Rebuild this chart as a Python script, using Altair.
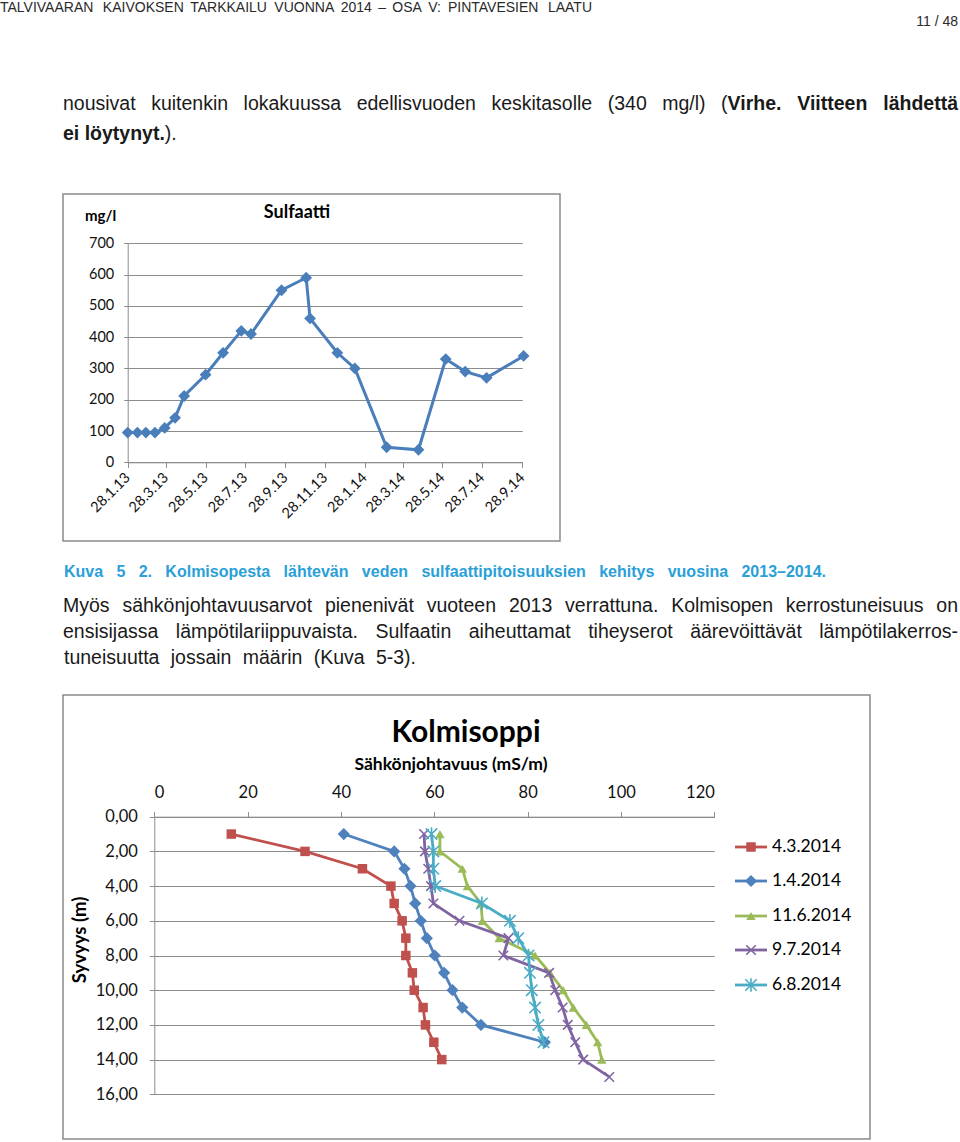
import altair as alt
import pandas as pd

# ---------------- page text (words of each printed line) ----------------
HEADER = ["TALVIVAARAN", "KAIVOKSEN", "TARKKAILU", "VUONNA", "2014", "–", "OSA", "V:",
          "PINTAVESIEN", "LAATU"]
PAGE_NO = "11 / 48"
TOP_L1 = ["nousivat", "kuitenkin", "lokakuussa", "edellisvuoden", "keskitasolle", "(340",
          "mg/l)", "("]
TOP_L1_BOLD = ["Virhe.", "Viitteen", "lähdettä"]
TOP_L2_BOLD = ["ei", "löytynyt."]
TOP_L2 = [")."]
CAPTION = ["Kuva", "5", "2.", "Kolmisopesta", "lähtevän", "veden", "sulfaattipitoisuuksien",
           "kehitys", "vuosina", "2013–2014."]
BODY_1 = ["Myös", "sähkönjohtavuusarvot", "pienenivät", "vuoteen", "2013", "verrattuna.",
          "Kolmisopen", "kerrostuneisuus", "on"]
BODY_2 = ["ensisijassa", "lämpötilariippuvaista.", "Sulfaatin", "aiheuttamat", "tiheyserot",
          "äärevöittävät", "lämpötilakerros-"]
BODY_3 = ["tuneisuutta", "jossain", "määrin", "(Kuva", "5-3)."]

# ---------------- Sulfaatti data ----------------
SULF_TITLE = "Sulfaatti"
SULF_UNIT = "mg/l"
sulf_dates = ["2013/01/28", "2013/02/12", "2013/02/25", "2013/03/11", "2013/03/26",
              "2013/04/11", "2013/04/25", "2013/05/28", "2013/06/24", "2013/07/22",
              "2013/08/06", "2013/09/22", "2013/10/30", "2013/11/05", "2013/12/17",
              "2014/01/13", "2014/03/03", "2014/04/21", "2014/06/02", "2014/07/02",
              "2014/08/04", "2014/09/30"]
sulf_values = [95, 95, 95, 95, 110, 142, 212, 280, 350, 420, 410, 550, 590, 460,
               350, 300, 48, 40, 330, 290, 270, 340]
sulf_ticks = ["2013/01/28", "2013/03/28", "2013/05/28", "2013/07/28", "2013/09/28",
              "2013/11/28", "2014/01/28", "2014/03/28", "2014/05/28", "2014/07/28",
              "2014/09/28"]
sulf_yticks = [0, 100, 200, 300, 400, 500, 600, 700]

# ---------------- Kolmisoppi data ----------------
K_TITLE = "Kolmisoppi"
K_SUB = "Sähkönjohtavuus (mS/m)"
K_YTITLE = "Syvyys (m)"
series_names = ["4.3.2014", "1.4.2014", "11.6.2014", "9.7.2014", "6.8.2014"]
depth_43 = [1, 2, 3, 4, 5, 6, 7, 8, 9, 10, 11, 12, 13, 14]
cond_43 = [16.5, 32.3, 44.6, 50.7, 51.4, 53.1, 53.9, 53.9, 55.3, 55.7, 57.6, 58.1, 59.9, 61.6]
depth_14 = [1, 2, 3, 4, 5, 6, 7, 8, 9, 10, 11, 12, 13]
cond_14 = [40.6, 51.4, 53.6, 54.9, 55.9, 57.1, 58.4, 60.1, 62.1, 63.9, 66.0, 70.0, 83.7]
depth_116 = [1, 2, 3, 4, 5, 6, 7, 8, 9, 10, 11, 12, 13, 14]
cond_116 = [61.2, 61.2, 66.0, 67.1, 70.0, 70.3, 73.9, 81.6, 84.8, 87.6, 89.8, 92.6, 95.0, 95.9]
depth_97 = [1, 2, 3, 4, 5, 6, 7, 8, 9, 10, 11, 12, 13, 14, 15]
cond_97 = [57.8, 58.0, 58.7, 59.3, 59.8, 65.4, 75.9, 74.8, 84.6, 85.9, 87.5, 88.6, 90.2, 91.9, 97.5]
depth_68 = [1, 2, 3, 4, 5, 6, 7, 8, 9, 10, 11, 12, 13]
cond_68 = [59.4, 59.8, 59.8, 60.2, 70.2, 76.2, 78.0, 80.2, 80.5, 80.9, 81.6, 82.3, 83.4]
k_xticks = [0, 20, 40, 60, 80, 100, 120]
k_yticks = [0, 2, 4, 6, 8, 10, 12, 14, 16]

# ---------------- styles ----------------
TXT_FONT = "Liberation Sans"
CH_FONT = "Lato"
GRID = "#8c8c8c"
BOX = "#8a8a8a"
colors = ["#C0504D", "#4F81BD", "#9BBB59", "#8064A2", "#4BACC6"]
X_PATH = "M-1,-1L1,1M-1,1L1,-1"
AST_PATH = "M-1,-1L1,1M-1,1L1,-1M0,-1.2L0,1.2"
markers = [dict(shape="square", filled=True, size=90),
           dict(shape="diamond", filled=True, size=150),
           dict(shape="triangle-up", filled=True, size=90),
           dict(shape=X_PATH, filled=False, size=90, strokeWidth=1.6),
           dict(shape=AST_PATH, filled=False, size=130, strokeWidth=1.6)]


# --- approximate advance widths (1/1000 em) of Liberation Sans, used only for line layout ---
def _tbl(pairs):
    d = {}
    for chars, w in pairs:
        for c in chars:
            d[c] = w
    return d


W_REG = _tbl([(" ,./:", 278), ("()-", 333), ("0123456789–", 556), ("ABEKPSVXY", 667),
              ("CDHNRUw", 722), ("GOQ", 778), ("FTZ", 611), ("I", 278), ("J", 500), ("L", 556),
              ("M", 833), ("W", 944), ("abdeghnopquäöå", 556), ("ckstvxyz", 500),
              ("fijlt", 222), ("t", 278), ("f", 278), ("m", 833), ("r", 333)])
W_BOLD = _tbl([(" ,./:", 278), ("()-", 333), ("0123456789–", 556), ("ABCDHKNRUX", 722),
               ("EPSVY", 667), ("GOQ", 778), ("FTZL", 611), ("I", 278), ("J", 556), ("M", 833),
               ("W", 944), ("aceksvxyä", 556), ("bdghnopquö", 611), ("fijlt", 278),
               ("ft", 333), ("m", 889), ("r", 389), ("w", 778), ("z", 500)])


def tw(s, bold, size):
    t = W_BOLD if bold else W_REG
    return sum(t.get(c, 556) for c in s) * size / 1000.0


def layout(tokens, x0, x1, size, justified):
    """tokens: (text, bold, space_before). Justified lines spread equal gaps to reach x1."""
    sp = 278 * size / 1000.0
    nat = sum(tw(t, b, size) for t, b, _ in tokens)
    nsp = sum(1 for i, (_, _, s) in enumerate(tokens) if s and i > 0)
    g = (x1 - x0 - nat - nsp * sp) / max(nsp, 1) if justified else 0.0
    out, x = [], x0
    for i, (t, b, s) in enumerate(tokens):
        if i > 0 and s:
            x += sp + g
        out.append((t, b, x, "left"))
        x += tw(t, b, size)
    if justified:
        t, b, _, _ = out[-1]
        out[-1] = (t, b, x1, "right")
    return out


def one():
    return alt.Data(values=[{"t": 0}])


def txt(s, x, y, size, align="left", bold=False, color="#1a1a1a", font=TXT_FONT,
        angle=None):
    kw = dict(align=align, baseline="middle", fontSize=size, font=font,
              fontWeight="bold" if bold else "normal", color=color)
    if angle is not None:
        kw["angle"] = angle
    return alt.Chart(alt.Data(values=[{"s": s}])).mark_text(**kw).encode(
        x=alt.value(x), y=alt.value(y), text="s:N")


def line_layers(tokens, x0, x1, y, size, justified, color="#1a1a1a"):
    return [txt(t, x, y, size, align=al, bold=b, color=color)
            for t, b, x, al in layout(tokens, x0, x1, size, justified)]


def plain(ws, bold=False):
    return [(w, bold, True) for w in ws]


def box(x1, y1, x2, y2):
    return alt.Chart(one()).mark_rect(fillOpacity=0, stroke=BOX, strokeWidth=1.5).encode(
        x=alt.value(x1), x2=alt.value(x2), y=alt.value(y1), y2=alt.value(y2))


def dt(s):
    y, m, d = (int(v) for v in s.split("/"))
    return alt.DateTime(year=y, month=m, date=d)


BODY_SIZE = 19.5

# ================= Section 1 (page y 0..550) =================
H1 = 550
sdf = pd.DataFrame({"date": sulf_dates, "value": sulf_values})
sx = alt.X("date:T",
           scale=alt.Scale(domain=[dt(sulf_ticks[0]), dt(sulf_ticks[-1])], range=[127.7, 522.3]),
           axis=alt.Axis(values=[dt(s) for s in sulf_ticks], format="%-d.%-m.%y",
                         orient="bottom", offset=462.3 - H1, grid=False,
                         labelAngle=-45, labelAlign="right", labelBaseline="middle",
                         domainColor=GRID, tickColor=GRID, tickSize=5, labelPadding=8,
                         labelFont=CH_FONT, labelFontSize=14.5, labelColor="#111",
                         labelOverlap=False, labelFlush=False, title=None))
sy = alt.Y("value:Q",
           scale=alt.Scale(domain=[0, 700], range=[462.3, 243.3], nice=False),
           axis=alt.Axis(values=sulf_yticks, orient="left", offset=-127.7, grid=True,
                         gridColor=GRID, gridWidth=1, domainColor=GRID, tickColor=GRID,
                         tickSize=4, labelPadding=10, labelFont=CH_FONT, labelFontSize=14.5,
                         labelColor="#111", title=None))
sbase = alt.Chart(sdf).encode(x=sx, y=sy)
s_line = sbase.mark_line(color="#4A7EBB", strokeWidth=3)
s_pts = sbase.mark_point(shape="diamond", filled=True, size=140, color="#4A7EBB", opacity=1)

top1 = plain(TOP_L1) + [(TOP_L1_BOLD[0], True, False)] + plain(TOP_L1_BOLD[1:], True)
top2 = plain(TOP_L2_BOLD, True) + [(TOP_L2[0], False, False)]

sec1 = alt.layer(
    box(63, 194, 560, 541),
    *line_layers(plain(HEADER), 0, 592, 8, 14, True, color="#2a2a2a"),
    txt(PAGE_NO, 958, 22, 14, align="right", color="#2a2a2a"),
    *line_layers(top1, 63, 958, 104, BODY_SIZE, True),
    *line_layers(top2, 63, 193, 134, BODY_SIZE, False),
    s_line, s_pts,
    txt(SULF_UNIT, 85, 216, 15, bold=True, font=CH_FONT, color="#000"),
    txt(SULF_TITLE, 297, 213, 18, align="center", bold=True, font=CH_FONT, color="#000"),
).properties(width=960, height=H1)

# ================= Section 2 (page y 550..1142) =================
H2 = 592
OFF = 550
rows = []
for name, ds, vs in zip(series_names, [depth_43, depth_14, depth_116, depth_97, depth_68],
                        [cond_43, cond_14, cond_116, cond_97, cond_68]):
    for d, v in zip(ds, vs):
        rows.append({"series": name, "depth": d, "cond": v})
kdf = pd.DataFrame(rows)

kx = alt.X("cond:Q",
           scale=alt.Scale(domain=[0, 120], range=[154.3, 714.3], nice=False),
           axis=alt.Axis(values=k_xticks, orient="top", offset=-(816.7 - OFF), grid=False,
                         domainColor=GRID, tickColor=GRID, tickSize=5, labelPadding=11,
                         labelFont=CH_FONT, labelFontSize=16.5, labelColor="#111", title=None))
ky = alt.Y("depth:Q",
           scale=alt.Scale(domain=[0, 16], range=[816.7 - OFF, 1094.3 - OFF], nice=False, zero=False),
           axis=alt.Axis(values=k_yticks, orient="left", offset=-154.3, grid=True,
                         gridColor=GRID, gridWidth=1, domainColor=GRID, tickColor=GRID,
                         tickSize=5, labelPadding=12, labelFont=CH_FONT, labelFontSize=16.5,
                         labelColor="#111", title=None,
                         labelExpr="replace(format(datum.value, '.2f'), '.', ',')"))
kbase = alt.Chart(kdf).encode(x=kx, y=ky, order=alt.Order("depth:Q"))

k_layers = []
for name, col, mk in zip(series_names, colors, markers):
    f = kbase.transform_filter(alt.datum.series == name)
    k_layers.append(f.mark_line(color=col, strokeWidth=2.8))
    k_layers.append(f.mark_point(color=col, opacity=1, **mk))

legend_layers = []
LEG_Y = [847, 881, 916, 950, 985]
for name, col, mk, ly in zip(series_names, colors, markers, LEG_Y):
    yy = ly - OFF
    legend_layers.append(alt.Chart(one()).mark_rule(color=col, strokeWidth=2.8).encode(
        x=alt.value(735), x2=alt.value(767), y=alt.value(yy)))
    legend_layers.append(alt.Chart(one()).mark_point(color=col, opacity=1, **mk).encode(
        x=alt.value(751), y=alt.value(yy)))
    legend_layers.append(txt(name, 772, yy, 17.5, font=CH_FONT, color="#000"))

sec2 = alt.layer(
    box(63, 695 - OFF, 870, 1139 - OFF),
    *line_layers(plain(CAPTION, True), 64, 826, 572 - OFF, 16, True, color="#2A9FD8"),
    *line_layers(plain(BODY_1), 63, 958, 606 - OFF, BODY_SIZE, True),
    *line_layers(plain(BODY_2), 63, 958, 632 - OFF, BODY_SIZE, True),
    *line_layers(plain(BODY_3), 64, 416, 658 - OFF, BODY_SIZE, True),
    txt(K_TITLE, 466, 733 - OFF, 30, align="center", bold=True, font=CH_FONT, color="#000"),
    txt(K_SUB, 451, 765 - OFF, 17.5, align="center", bold=True, font=CH_FONT, color="#000"),
    txt(K_YTITLE, 80, 940 - OFF, 18.5, align="center", bold=True, font=CH_FONT, color="#000",
        angle=270),
    *k_layers,
    *legend_layers,
).properties(width=960, height=H2)

chart = alt.vconcat(sec1, sec2, spacing=0).properties(
    padding=0, background="white"
).configure_view(stroke=None).configure_concat(spacing=0)

chart.save("out.html", embed_options={"renderer": "svg", "actions": False})
